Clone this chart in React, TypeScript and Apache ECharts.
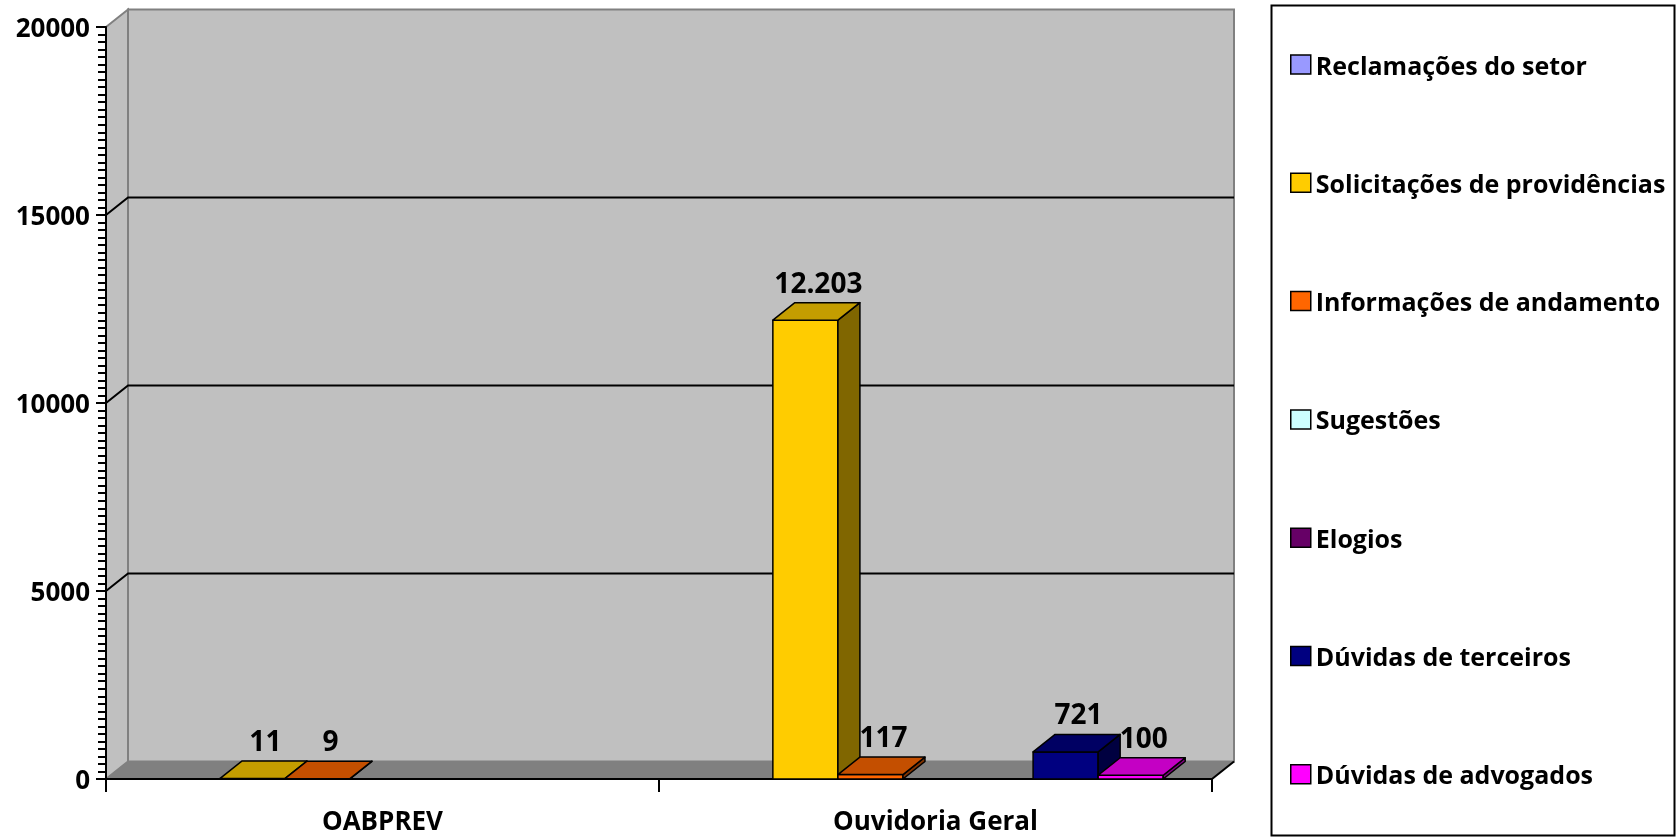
import React, { useEffect, useRef } from "react";
import * as echarts from "echarts";

const categories = ["OABPREV", "Ouvidoria Geral"];
const seriesNames = [
  "Reclamações do setor",
  "Solicitações de providências",
  "Informações de andamento",
  "Sugestões",
  "Elogios",
  "Dúvidas de terceiros",
  "Dúvidas de advogados",
];
const seriesColors = ["#9999FF", "#FFCC00", "#FF6600", "#CCFFFF", "#660066", "#000080", "#FF00FF"];
const reclamacoes: (number | null)[] = [null, null];
const solicitacoes: (number | null)[] = [11, 12203];
const informacoes: (number | null)[] = [9, 117];
const sugestoes: (number | null)[] = [null, null];
const elogios: (number | null)[] = [null, null];
const duvidasTerceiros: (number | null)[] = [null, 721];
const duvidasAdvogados: (number | null)[] = [null, 100];
const seriesValues = [reclamacoes, solicitacoes, informacoes, sugestoes, elogios, duvidasTerceiros, duvidasAdvogados];
const gridValues = [5000, 10000, 15000];

const DX = 22;
const DY = -17.5;
const FONT = "Open Sans";

function shade(hex: string, f: number) {
  const n = parseInt(hex.slice(1), 16);
  const r = Math.round(((n >> 16) & 255) * f);
  const g = Math.round(((n >> 8) & 255) * f);
  const b = Math.round((n & 255) * f);
  return `rgb(${r},${g},${b})`;
}
function fmt(v: number) {
  return String(v).replace(/\B(?=(\d{3})+(?!\d))/g, ".");
}

export default function App() {
  const ref = useRef<HTMLDivElement>(null);
  useEffect(() => {
    const chart = echarts.init(ref.current!, null, { renderer: "svg" });
    const nSlots = seriesNames.length + 1.5;

    const frameSeries: any = {
      type: "custom",
      name: "__frame",
      z: -1,
      silent: true,
      data: [[0, 0]],
      renderItem: (params: any, api: any) => {
        const cs = params.coordSys;
        const x0 = cs.x, x1 = cs.x + cs.width, yT = cs.y, yB = cs.y + cs.height;
        const children: any[] = [];
        children.push({
          type: "polygon",
          shape: { points: [[x0 + DX, yT + DY], [x1 + DX, yT + DY], [x1 + DX, yB + DY], [x0 + DX, yB + DY]] },
          style: { fill: "#C0C0C0", stroke: "#808080", lineWidth: 2 },
        });
        children.push({
          type: "polygon",
          shape: { points: [[x0, yT], [x0 + DX, yT + DY], [x0 + DX, yB + DY], [x0, yB]] },
          style: { fill: "#C0C0C0", stroke: "#808080", lineWidth: 2 },
        });
        children.push({
          type: "polygon",
          shape: { points: [[x0, yB], [x0 + DX, yB + DY], [x1 + DX, yB + DY], [x1, yB]] },
          style: { fill: "#808080", stroke: "#808080", lineWidth: 1 },
        });
        children.push({
          type: "line",
          shape: { x1: x1, y1: yB, x2: x1 + DX, y2: yB + DY },
          style: { stroke: "#000", lineWidth: 2 },
        });
        gridValues.forEach((v) => {
          const y = api.coord([0, v])[1];
          children.push({
            type: "polyline",
            shape: { points: [[x0, y], [x0 + DX, y + DY], [x1 + DX, y + DY]] },
            style: { stroke: "#000", lineWidth: 2, fill: "none" },
          });
        });
        return { type: "group", children };
      },
    };

    const barSeries = seriesNames.map((name, si) => {
      const vals = seriesValues[si];
      const data: any[] = [];
      vals.forEach((v, ci) => {
        if (v !== null) data.push([ci, v]);
      });
      return {
        type: "custom",
        name,
        z: 3,
        itemStyle: { color: seriesColors[si] },
        data,
        renderItem: (params: any, api: any) => {
          const ci = api.value(0);
          const v = api.value(1);
          const band = api.size([1, 0])[0];
          const bw = band / nSlots;
          const center = api.coord([ci, 0])[0];
          const xs = center - band / 2 + 0.75 * bw + si * bw;
          const yB = api.coord([ci, 0])[1];
          const yT = api.coord([ci, v])[1];
          const col = seriesColors[si];
          const stroke = { stroke: "#000", lineWidth: 1.5, lineJoin: "round" };
          return {
            type: "group",
            children: [
              {
                type: "polygon",
                shape: { points: [[xs, yT], [xs + bw, yT], [xs + bw, yB], [xs, yB]] },
                style: { fill: col, ...stroke },
              },
              {
                type: "polygon",
                shape: { points: [[xs + bw, yT], [xs + bw + DX, yT + DY], [xs + bw + DX, yB + DY], [xs + bw, yB]] },
                style: { fill: shade(col, 0.5), ...stroke },
              },
              {
                type: "polygon",
                shape: { points: [[xs, yT], [xs + DX, yT + DY], [xs + bw + DX, yT + DY], [xs + bw, yT]] },
                style: { fill: shade(col, 0.77), ...stroke },
              },
              {
                type: "text",
                x: xs + bw / 2 + DX / 2 + 2,
                y: yT + DY - 21,
                style: {
                  text: fmt(v),
                  fill: "#000",
                  fontSize: 28,
                  fontWeight: "bold",
                  fontFamily: FONT,
                  align: "center",
                  verticalAlign: "middle",
                },
              },
            ],
          };
        },
      };
    });

    chart.setOption({
      animation: false,
      textStyle: { fontFamily: FONT },
      grid: { left: 106, right: 465, top: 27, bottom: 58, containLabel: false },
      xAxis: {
        type: "category",
        data: categories,
        boundaryGap: true,
        axisLine: { lineStyle: { color: "#000", width: 2 } },
        axisTick: { show: true, length: 13, lineStyle: { color: "#000", width: 2 } },
        axisLabel: { color: "#000", fontSize: 26, fontWeight: "bold", fontFamily: FONT, margin: 28 },
        z: 1,
      },
      yAxis: {
        type: "value",
        min: 0,
        max: 20000,
        interval: 5000,
        axisLine: { show: true, lineStyle: { color: "#000", width: 2 } },
        axisTick: { show: true, length: 10, lineStyle: { color: "#000", width: 2 } },
        minorTick: { show: true, splitNumber: 25, length: 8, lineStyle: { color: "#000", width: 2 } },
        splitLine: { show: false },
        axisLabel: {
          color: "#000",
          fontSize: 26,
          fontWeight: "bold",
          fontFamily: FONT,
          margin: 16,
          formatter: (v: number) => String(v),
        },
        z: 1,
      },
      legend: {
        orient: "vertical",
        left: 1290,
        top: 52,
        padding: 0,
        itemWidth: 20,
        itemHeight: 19,
        itemGap: 93.3,
        icon: "rect",
        data: seriesNames.map((n) => ({ name: n, itemStyle: { borderColor: "#000", borderWidth: 1.5 } })),
        textStyle: { color: "#000", fontSize: 25, fontWeight: "bold", fontFamily: FONT, lineHeight: 25 },
        selectedMode: false,
      },
      graphic: [
        {
          type: "rect",
          left: 1269,
          top: 3,
          shape: { width: 403, height: 830 },
          style: { fill: "none", stroke: "#000", lineWidth: 2 },
        },
      ],
      series: [frameSeries, ...barSeries],
    });
    return () => chart.dispose();
  }, []);
  return <div ref={ref} style={{ position: "fixed", left: 0, top: 0, width: 1677, height: 837 }} />;
}
